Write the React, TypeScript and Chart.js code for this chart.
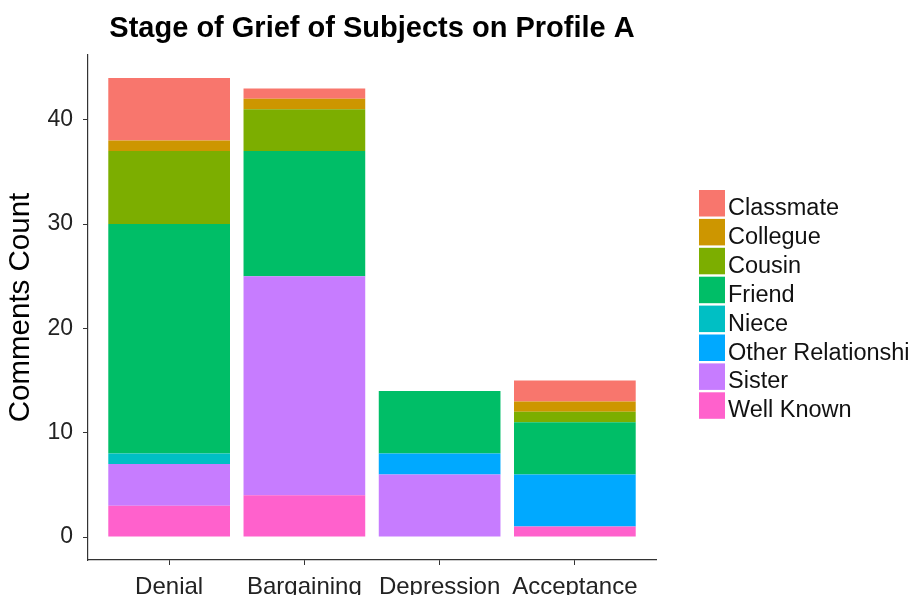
import React, { useEffect, useRef } from "react";
import { Chart, registerables } from "chart.js";

Chart.register(...registerables);

const categories = ["Denial", "Bargaining", "Depression", "Acceptance"];
const yTicks = [0, 10, 20, 30, 40];

// bottom-to-top stacking order
const wellKnown = [3, 4, 0, 1];
const sister = [4, 21, 6, 0];
const otherRelationship = [0, 0, 2, 5];
const niece = [1, 0, 0, 0];
const friend = [22, 12, 6, 5];
const cousin = [7, 4, 0, 1];
const collegue = [1, 1, 0, 1];
const classmate = [6, 1, 0, 2];

const seriesNames = ["Well Known", "Sister", "Other Relationship", "Niece", "Friend", "Cousin", "Collegue", "Classmate"];
const seriesValues = [wellKnown, sister, otherRelationship, niece, friend, cousin, collegue, classmate];
const seriesColors = ["#FF61CC", "#C77CFF", "#00A9FF", "#00BFC4", "#00BE67", "#7CAE00", "#CD9600", "#F8766D"];

// legend order top-to-bottom
const legendNames = ["Classmate", "Collegue", "Cousin", "Friend", "Niece", "Other Relationship", "Sister", "Well Known"];
const legendColors = ["#F8766D", "#CD9600", "#7CAE00", "#00BE67", "#00BFC4", "#00A9FF", "#C77CFF", "#FF61CC"];

const titleText = "Stage of Grief of Subjects on Profile A";
const FONT = "'Liberation Sans', Arial, sans-serif";

const overlayPlugin = {
  id: "overlay",
  afterDraw(chart: any) {
    const ctx = chart.ctx;
    const ca = chart.chartArea;
    ctx.save();
    ctx.fillStyle = "#000";
    ctx.font = `bold 29px ${FONT}`;
    ctx.textAlign = "center";
    ctx.textBaseline = "alphabetic";
    ctx.fillText(titleText, (ca.left + ca.right) / 2, 37);

    ctx.font = `23.5px ${FONT}`;
    ctx.textAlign = "left";
    legendNames.forEach((name, i) => {
      const top = 190 + i * 28.9;
      ctx.fillStyle = legendColors[i];
      ctx.fillRect(699, top, 26, 26.5);
      ctx.fillStyle = "#111";
      ctx.fillText(name, 728, top + 25);
    });
    ctx.restore();
  },
};

export default function App() {
  const ref = useRef<HTMLCanvasElement>(null);
  useEffect(() => {
    if (!ref.current) return;
    const chart = new Chart(ref.current, {
      type: "bar",
      data: {
        datasets: seriesNames.map((name, s) => ({
          label: name,
          data: seriesValues[s].map((v, i) => ({ x: i + 1, y: v })),
          backgroundColor: seriesColors[s],
          borderWidth: 0,
          barPercentage: 0.9,
          categoryPercentage: 1.0,
        })),
      },
      options: {
        responsive: false,
        animation: false,
        layout: { padding: { left: 0, top: 55, right: 255, bottom: 0 } },
        plugins: { legend: { display: false }, title: { display: false }, tooltip: { enabled: false } },
        scales: {
          x: {
            type: "linear",
            stacked: true,
            offset: false,
            min: 0.4,
            max: 4.6,
            afterBuildTicks: (scale: any) => {
              scale.ticks = categories.map((_, i) => ({ value: i + 1 }));
            },
            afterFit: (scale: any) => {
              scale.height = 35;
            },
            grid: { offset: false, drawOnChartArea: false, drawTicks: true, tickLength: 5, color: "#333", lineWidth: 1 },
            border: { display: true, color: "#333", width: 1.2 },
            ticks: {
              autoSkip: false,
              maxRotation: 0,
              padding: 8,
              color: "#222",
              font: { family: FONT, size: 24 },
              callback: (v: any) => categories[Math.round(Number(v)) - 1] ?? "",
            },
          },
          y: {
            type: "linear",
            stacked: true,
            min: -2.2,
            max: 46.2,
            afterBuildTicks: (scale: any) => {
              scale.ticks = yTicks.map((v) => ({ value: v }));
            },
            afterFit: (scale: any) => {
              scale.width = 88;
            },
            grid: { drawOnChartArea: false, drawTicks: true, tickLength: 5, color: "#333", lineWidth: 1 },
            border: { display: true, color: "#333", width: 1.2 },
            ticks: {
              padding: 10,
              color: "#222",
              font: { family: FONT, size: 23 },
            },
            title: {
              display: true,
              text: "Comments Count",
              color: "#000",
              font: { family: FONT, size: 29.5 },
              padding: { top: 3, bottom: 0 },
            },
          },
        },
      },
      plugins: [overlayPlugin],
    } as any);
    return () => chart.destroy();
  }, []);
  return (
    <div style={{ position: "absolute", left: 0, top: 0, width: 911, height: 595, background: "#fff" }}>
      <canvas ref={ref} width={911} height={595} style={{ display: "block" }} />
    </div>
  );
}
